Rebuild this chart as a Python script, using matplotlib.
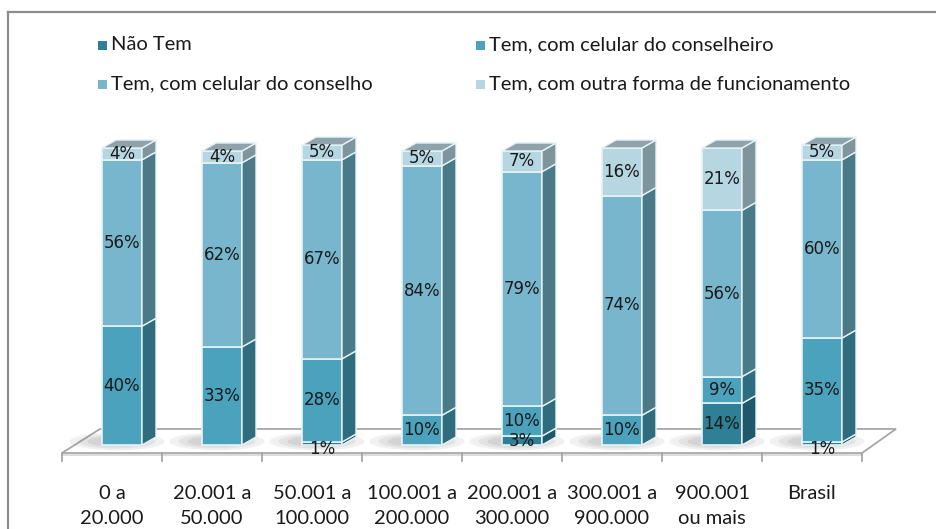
import numpy as np
from matplotlib import pyplot as plt
from matplotlib.patches import Polygon, Rectangle, Ellipse
from matplotlib.lines import Line2D

# dados
categorias = ['0 a\n20.000', '20.001 a\n50.000', '50.001 a\n100.000',
              '100.001 a\n200.000', '200.001 a\n300.000', '300.001 a\n900.000',
              '900.001\nou mais', 'Brasil']
series = ['Não Tem', 'Tem, com celular do conselheiro',
          'Tem, com celular do conselho', 'Tem, com outra forma de funcionamento']
nao_tem = [0, 0, 1, 0, 3, 0, 14, 1]
conselheiro = [40, 33, 28, 10, 10, 10, 9, 35]
conselho = [56, 62, 67, 84, 79, 74, 56, 60]
outra = [4, 4, 5, 5, 7, 16, 21, 5]
valores = [nao_tem, conselheiro, conselho, outra]

cor_frente = ['#2f7f96', '#4aa2bd', '#78b6cd', '#b6d6e2']
cor_lado = ['#1f5868', '#2f6d7e', '#4a7a88', '#7f959d']
cor_topo = '#8ea3ab'

W, H = 936, 529
fig = plt.figure(figsize=(W / 100, H / 100), dpi=100)
ax = fig.add_axes([0, 0, 1, 1])
ax.axis('off')
# escala: 100 px por categoria, 2.97 px por ponto percentual
px_x, px_y = 100.0, 2.97
ax.set_xlim(-122 / px_x, (W - 122) / px_x)
ax.set_ylim(-(H - 445) / px_y, 445 / px_y)

n = len(categorias)
x = np.arange(n)
largura = 0.4
dx, dy = 0.14, 8 / px_y

# piso 3D
f0, f1 = -2.7, 5.4
piso = Polygon([(-0.6, f0), (n - 0.6, f0), (n - 0.6 + 0.34, f1), (-0.6 + 0.38, f1)],
               closed=True, facecolor='white', edgecolor='#a8a8a8', lw=1.3, zorder=1)
ax.add_patch(piso)
ax.plot([-0.6, n - 0.6], [f0 - 0.5, f0 - 0.5], color='#dcdcdc', lw=1.5, zorder=1)
for i in range(n + 1):
    ax.plot([i - 0.6, i - 0.6], [f0, f0 - 2.7], color='#a0a0a0', lw=1.2, zorder=1)

# sombras
for xi in x:
    for k, a in enumerate([0.10, 0.12, 0.15]):
        e = Ellipse((xi - 0.05, 1.2), width=0.95 - 0.18 * k, height=6 - 1.2 * k,
                    facecolor='#7f7f7f', alpha=a, lw=0, zorder=2)
        ax.add_patch(e)

# barras
base = np.zeros(n)
for s in range(4):
    v = np.array(valores[s], dtype=float)
    ax.bar(x, v, largura, bottom=base, color=cor_frente[s],
           edgecolor='#e6f3f7', lw=1.2, zorder=3)
    for i in range(n):
        if v[i] <= 0:
            continue
        xr = x[i] + largura / 2
        b, t = base[i], base[i] + v[i]
        lado = Polygon([(xr, b), (xr + dx, b + dy), (xr + dx, t + dy), (xr, t)],
                       closed=True, facecolor=cor_lado[s], edgecolor='#e6f3f7',
                       lw=1.0, zorder=3)
        ax.add_patch(lado)
        yl = b + v[i] / 2
        if v[i] <= 1:
            yl -= 1.8
        ax.text(x[i], yl, '%d%%' % v[i], ha='center', va='center',
                fontsize=12, color='#1a1a1a', family='DejaVu Sans', zorder=5)
    base = base + v

for i in range(n):
    xl, xr, t = x[i] - largura / 2, x[i] + largura / 2, base[i]
    topo = Polygon([(xl, t), (xl + dx, t + dy), (xr + dx, t + dy), (xr, t)],
                   closed=True, facecolor=cor_topo, edgecolor='#e6f3f7', lw=1.0, zorder=4)
    ax.add_patch(topo)

# rótulos das categorias
for i in range(n):
    ax.text(x[i] - 0.1, -(485 - 445) / px_y, categorias[i], ha='center', va='top',
            fontsize=14.5, family='Lato', color='#1a1a1a', linespacing=1.6)

# moldura e legenda (coordenadas em pixels)
ov = fig.add_axes([0, 0, 1, 1])
ov.axis('off')
ov.set_xlim(0, W)
ov.set_ylim(H, 0)
ov.add_line(Line2D([8, 8], [12, H], color='#8c8c8c', lw=1.6))
ov.add_line(Line2D([8, W], [12, 12], color='#8c8c8c', lw=1.6))

pos = [(98, 45), (476, 45), (98, 84), (476, 84)]
for s in range(4):
    px, py = pos[s]
    ov.add_patch(Rectangle((px, py - 4.5), 9, 9, facecolor=cor_frente[s], lw=0))
    ov.text(px + 13, py, series[s], ha='left', va='center', fontsize=14.5,
            family='Lato', color='#1a1a1a')

fig.savefig('out.png', dpi=100)
